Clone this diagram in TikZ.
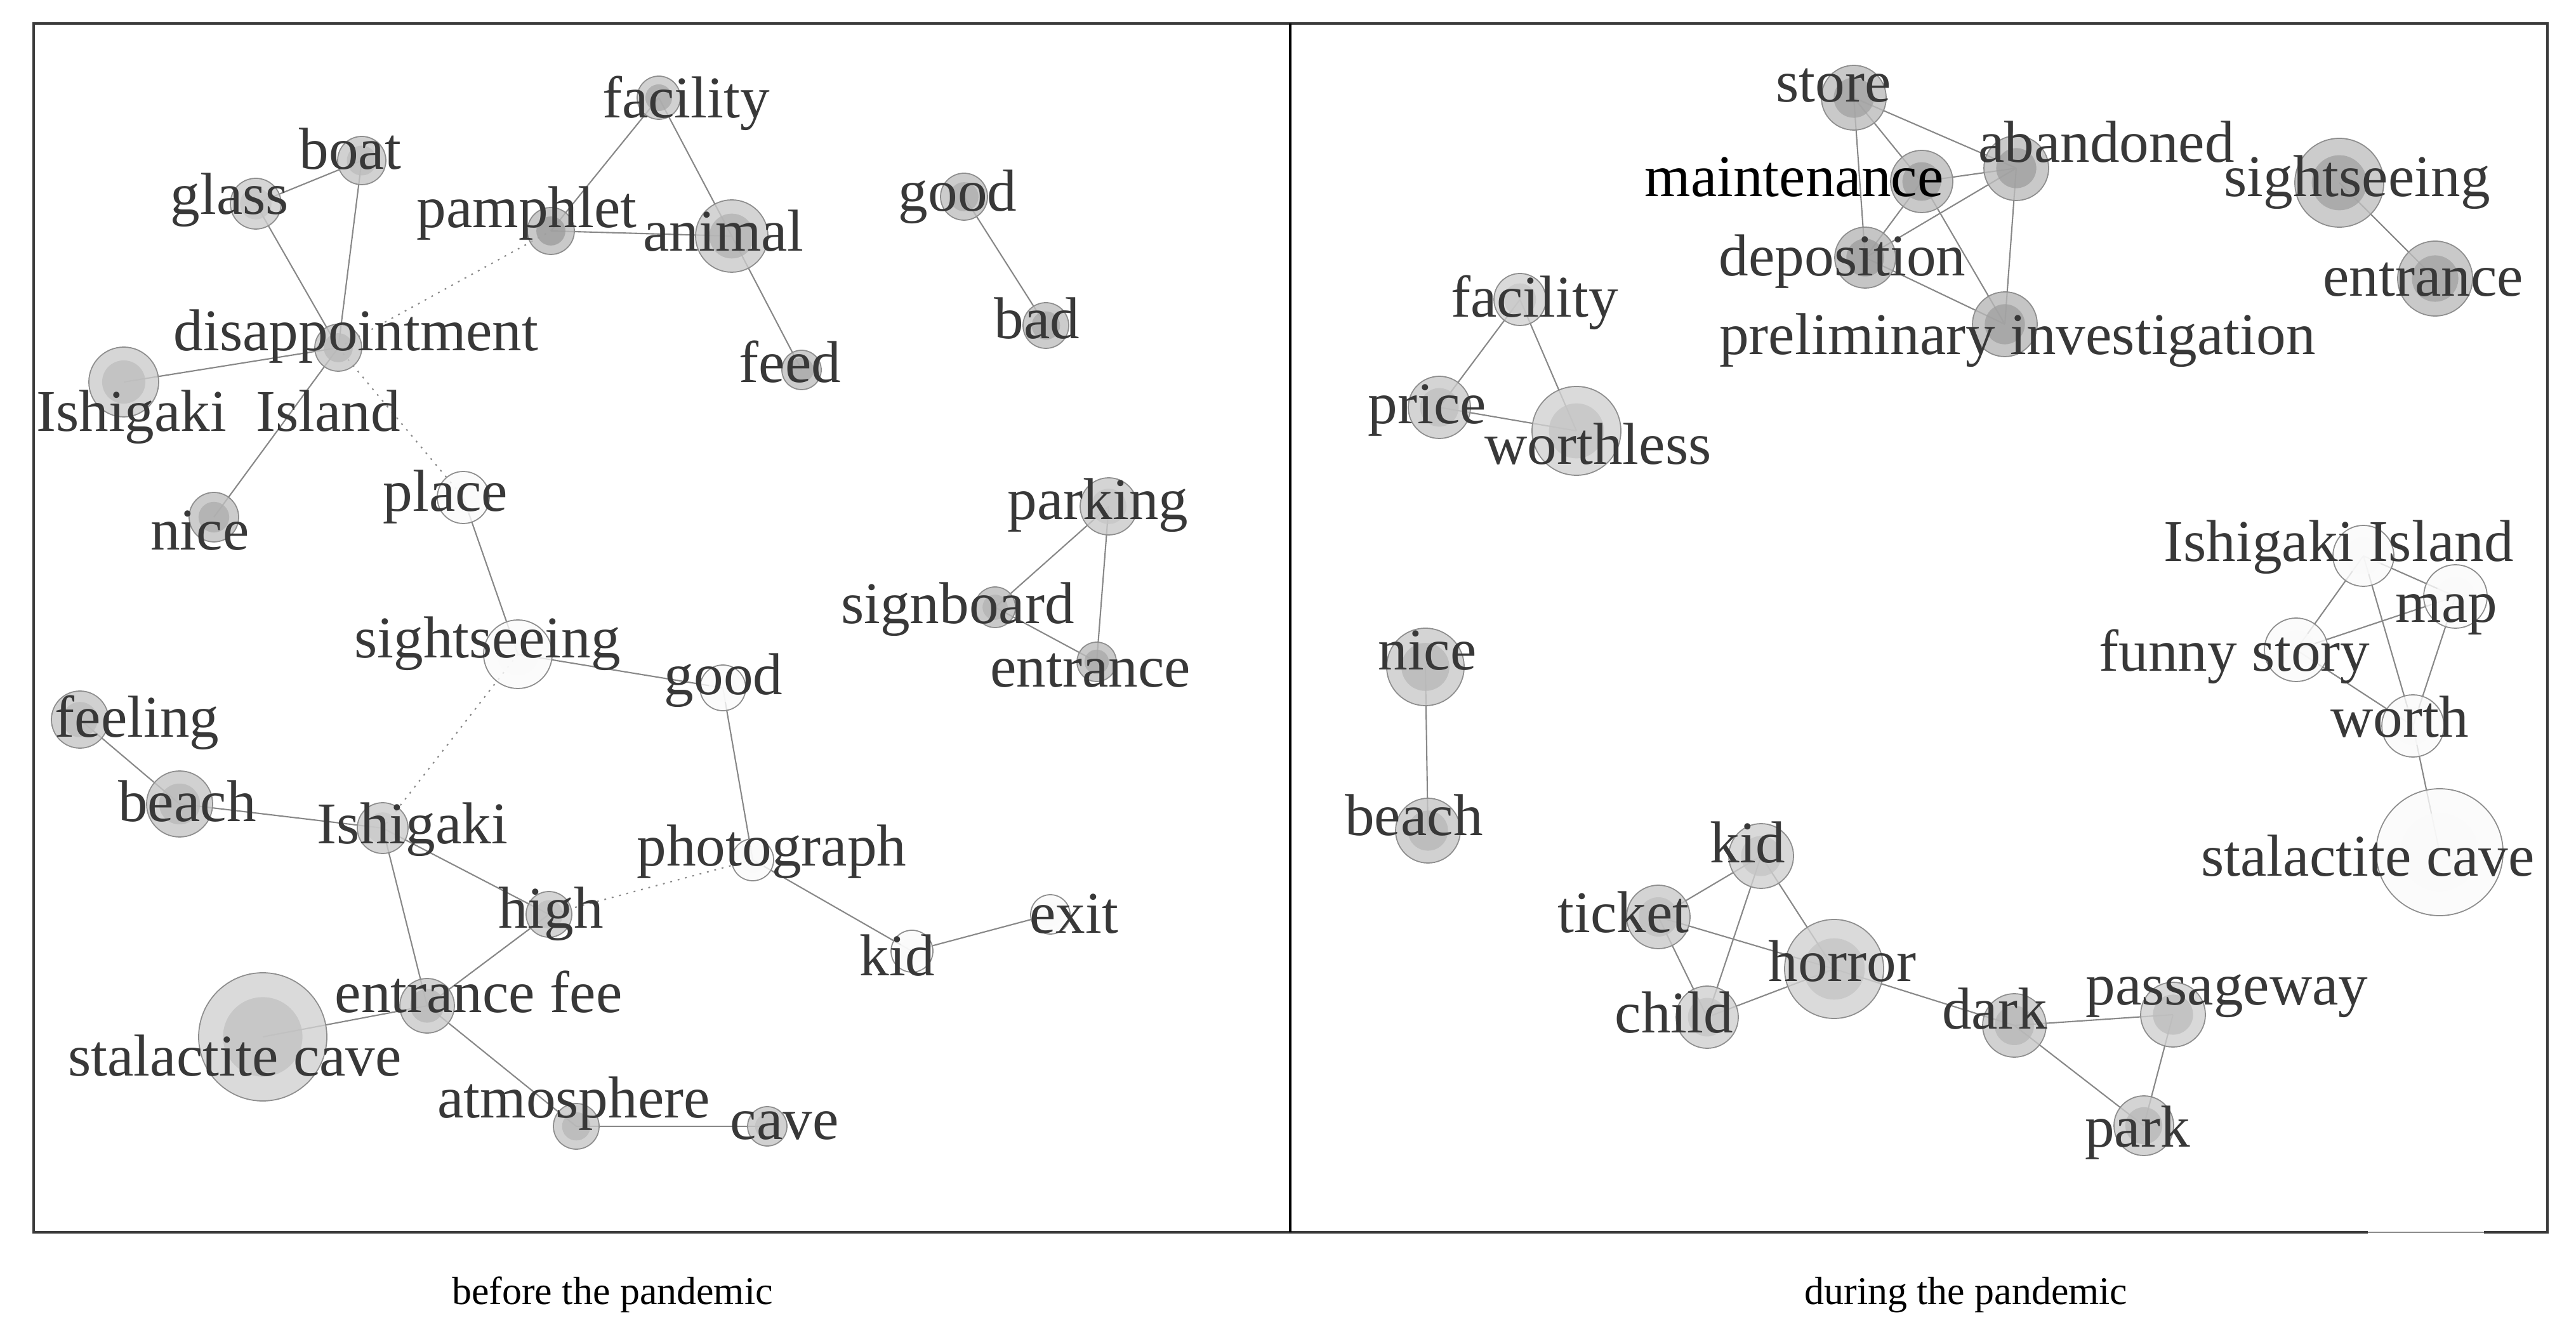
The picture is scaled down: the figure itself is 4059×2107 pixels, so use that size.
\documentclass[tikz,border=0pt]{standalone}
\usepackage{fontspec}
\setmainfont{Liberation Serif}
\usetikzlibrary{backgrounds}
\definecolor{lblgray}{HTML}{383838}
\definecolor{edgegray}{HTML}{888888}
\definecolor{ringgray}{HTML}{8E8E8E}
\definecolor{framegray}{HTML}{3A3A3A}
\tikzset{
  vtx/.style={circle, draw=ringgray, line width=0.5pt, inner sep=0pt, fill opacity=0.8},
  lbl/.style={anchor=base, inner sep=0pt, yshift=-0.03cm, text=lblgray, font=\fontsize{26.5}{30}\selectfont},
  captionstyle/.style={anchor=base, inner sep=0pt, text=black, font=\fontsize{17.6}{20}\selectfont},
  edgeline/.style={draw=edgegray, line width=0.6pt},
  dotline/.style={draw=edgegray, line width=0.6pt, dash pattern=on 0.8pt off 2.6pt},
  framestyle/.style={draw=framegray, line width=1.1pt},
}
\newcommand\kw[6]{%
  \pgfmathsetmacro\kwo{#5/0.8}%
  \pgfmathsetmacro\kwi{max(0,(#6-0.25*#5)/0.75)}%
  \node[vtx, minimum size={2*#4*0.01cm}, fill=black!\kwo] (#1) at (#2,#3) {};
  \fill[black!\kwi, fill opacity=0.75] (#1.center) circle[radius={#4*0.0062cm}];
}
\begin{document}
\begin{tikzpicture}[x=0.01cm, y=-0.01cm]
\useasboundingbox (0,0) rectangle (4059,2107);
% frame
\draw[framestyle] (53,37) rectangle (4014,1942);
\draw[white, line width=1.6pt] (3731,1942) -- (3914,1942);
\draw[black!45, line width=0.6pt] (3731,1942) -- (3914,1942);
\draw[black, line width=1.2pt] (2033,37) -- (2033,1942);

% ---------- left panel circles ----------
\kw{Lfac}{1038}{154}{34}{18}{30}
\kw{Lboat}{570}{253}{38}{18}{24}
\kw{Lglass}{403}{321}{40}{16}{21}
\kw{Lpam}{868}{364}{37}{21}{35}
\kw{Lani}{1153}{372}{57}{17}{27}
\kw{Lfeed}{1263}{583}{31}{20}{31}
\kw{LgoodA}{1519}{310}{37}{20}{29}
\kw{Lbad}{1648}{513}{36}{20}{30}
\kw{Ldis}{533}{548}{37}{18}{25}
\kw{LII}{195}{602}{55}{16}{23}
\kw{Lnice}{337}{815}{39}{20}{29}
\kw{Lplace}{730}{784}{41}{1.5}{1.5}
\kw{Lpark}{1747}{798}{45}{17}{21}
\kw{Lsign}{1568}{957}{32}{21}{28}
\kw{Lent}{1728}{1043}{31}{21}{31}
\kw{Lsight}{816}{1031}{54}{1.5}{1.5}
\kw{LgoodB}{1139}{1084}{36}{1.5}{1.5}
\kw{Lfeel}{126}{1134}{45}{18}{24}
\kw{Lbeach}{283}{1267}{52}{18}{25}
\kw{Lishi}{603}{1305}{40}{16}{20}
\kw{Lhigh}{865}{1441}{36}{17}{23}
\kw{Lphoto}{1186}{1355}{33}{1.5}{1.5}
\kw{Lkid}{1437}{1499}{33}{1.5}{1.5}
\kw{Lexit}{1655}{1441}{31}{1.5}{1.5}
\kw{Lfee}{673}{1585}{43}{17}{25}
\kw{Lstal}{414}{1634}{101}{14.5}{22}
\kw{Latm}{908}{1775}{36}{18}{26}
\kw{Lcave}{1209}{1775}{31}{18}{23}

% ---------- right panel circles ----------
\kw{Rstore}{2921}{154}{51}{21}{33}
\kw{Rmain}{3028}{286}{49}{21}{34}
\kw{Raban}{3177}{265}{51}{21}{34}
\kw{Rdep}{2939}{406}{48}{23}{35}
\kw{Rpre}{3159}{511}{51}{23}{34}
\kw{Rsight}{3686}{288}{70}{20}{33}
\kw{Rent}{3837}{439}{59}{21}{33}
\kw{Rfac}{2395}{472}{41}{14.5}{20}
\kw{Rprice}{2268}{642}{49}{17}{23}
\kw{Rwless}{2484}{679}{70}{14.5}{21}
\kw{Rnice}{2246}{1051}{61}{17}{25}
\kw{Rbeach}{2250}{1309}{51}{18}{26}
\kw{RII}{3724}{876}{48}{1.5}{1.5}
\kw{Rmap}{3869}{940}{50}{1.5}{1.5}
\kw{Rfun}{3618}{1024}{50}{1.5}{1.5}
\kw{Rworth}{3802}{1144}{49}{1.5}{1.5}
\kw{Rstal}{3844}{1343}{100}{1.5}{1.5}
\kw{Rkid}{2775}{1349}{51}{15}{21}
\kw{Rticket}{2613}{1445}{50}{17}{23}
\kw{Rhorror}{2890}{1527}{78}{14.5}{21}
\kw{Rchild}{2690}{1603}{49}{15}{21}
\kw{Rdark}{3174}{1616}{50}{18}{26}
\kw{Rpass}{3424}{1599}{51}{15}{23}
\kw{Rpark}{3378}{1774}{47}{17}{25}

% ---------- connectors ----------
\begin{scope}[on background layer]
\draw[edgeline] (Lfac.center) -- (Lpam.center);
\draw[edgeline] (Lfac.center) -- (Lani.center);
\draw[edgeline] (Lpam.center) -- (Lani.center);
\draw[edgeline] (Lani.center) -- (Lfeed.center);
\draw[edgeline] (LgoodA.center) -- (Lbad.center);
\draw[edgeline] (Lglass.center) -- (Lboat.center);
\draw[edgeline] (Lglass.center) -- (Ldis.center);
\draw[edgeline] (Lboat.center) -- (Ldis.center);
\draw[edgeline] (Ldis.center) -- (LII.center);
\draw[edgeline] (Ldis.center) -- (Lnice.center);
\draw[dotline] (Ldis.center) -- (Lpam.center);
\draw[dotline] (Ldis.center) -- (Lplace.center);
\draw[edgeline] (Lplace.center) -- (Lsight.center);
\draw[edgeline] (Lsight.center) -- (LgoodB.center);
\draw[dotline] (Lsight.center) -- (Lishi.center);
\draw[edgeline] (LgoodB.center) -- (Lphoto.center);
\draw[edgeline] (Lphoto.center) -- (Lkid.center);
\draw[edgeline] (Lkid.center) -- (Lexit.center);
\draw[dotline] (Lphoto.center) -- (Lhigh.center);
\draw[edgeline] (Lpark.center) -- (Lsign.center);
\draw[edgeline] (Lpark.center) -- (Lent.center);
\draw[edgeline] (Lsign.center) -- (Lent.center);
\draw[edgeline] (Lfeel.center) -- (Lbeach.center);
\draw[edgeline] (Lbeach.center) -- (Lishi.center);
\draw[edgeline] (Lishi.center) -- (Lhigh.center);
\draw[edgeline] (Lishi.center) -- (Lfee.center);
\draw[edgeline] (Lhigh.center) -- (Lfee.center);
\draw[edgeline] (Lfee.center) -- (Lstal.center);
\draw[edgeline] (Lfee.center) -- (Latm.center);
\draw[edgeline] (Latm.center) -- (Lcave.center);
% right
\draw[edgeline] (Rstore.center) -- (Rmain.center);
\draw[edgeline] (Rstore.center) -- (Raban.center);
\draw[edgeline] (Rstore.center) -- (Rdep.center);
\draw[edgeline] (Rmain.center) -- (Raban.center);
\draw[edgeline] (Rmain.center) -- (Rdep.center);
\draw[edgeline] (Rmain.center) -- (Rpre.center);
\draw[edgeline] (Raban.center) -- (Rdep.center);
\draw[edgeline] (Raban.center) -- (Rpre.center);
\draw[edgeline] (Rdep.center) -- (Rpre.center);
\draw[edgeline] (Rsight.center) -- (Rent.center);
\draw[edgeline] (Rfac.center) -- (Rprice.center);
\draw[edgeline] (Rfac.center) -- (Rwless.center);
\draw[edgeline] (Rprice.center) -- (Rwless.center);
\draw[edgeline] (Rnice.center) -- (Rbeach.center);
\draw[edgeline] (RII.center) -- (Rfun.center);
\draw[edgeline] (RII.center) -- (Rmap.center);
\draw[edgeline] (RII.center) -- (Rworth.center);
\draw[edgeline] (Rfun.center) -- (Rmap.center);
\draw[edgeline] (Rfun.center) -- (Rworth.center);
\draw[edgeline] (Rmap.center) -- (Rworth.center);
\draw[edgeline] (Rworth.center) -- (Rstal.center);
\draw[edgeline] (Rkid.center) -- (Rticket.center);
\draw[edgeline] (Rkid.center) -- (Rchild.center);
\draw[edgeline] (Rkid.center) -- (Rhorror.center);
\draw[edgeline] (Rticket.center) -- (Rhorror.center);
\draw[edgeline] (Rticket.center) -- (Rchild.center);
\draw[edgeline] (Rchild.center) -- (Rhorror.center);
\draw[edgeline] (Rhorror.center) -- (Rdark.center);
\draw[edgeline] (Rdark.center) -- (Rpass.center);
\draw[edgeline] (Rdark.center) -- (Rpark.center);
\draw[edgeline] (Rpass.center) -- (Rpark.center);
\end{scope}

% ---------- labels ----------
\node[lbl] (tLfac) at (1081,183) {facility};
\node[lbl] (tLboat) at (552,264) {boat};
\node[lbl] (tLglass) at (362,335) {glass};
\node[lbl] (tLpam) at (830,356) {pamphlet};
\node[lbl] (tLani) at (1140,393) {animal};
\node[lbl] (tLfeed) at (1245,600) {feed};
\node[lbl] (tLgoodA) at (1509,330) {good};
\node[lbl] (tLbad) at (1634,531) {bad};
\node[lbl] (tLdis) at (561,550) {disappointment};
\node[lbl] (tLII) at (344,677) {Ishigaki\hspace{0.49em}Island};
\node[lbl] (tLnice) at (315,864) {nice};
\node[lbl] (tLplace) at (702,803) {place};
\node[lbl] (tLpark) at (1730,816) {parking};
\node[lbl] (tLsign) at (1509,980) {signboard};
\node[lbl] (tLent) at (1718,1080) {entrance};
\node[lbl] (tLsight) at (768,1034) {sightseeing};
\node[lbl] (tLgoodB) at (1140,1092) {good};
\node[lbl] (tLfeel) at (216,1159) {feeling};
\node[lbl] (tLbeach) at (295,1291) {beach};
\node[lbl] (tLishi) at (650,1326) {Ishigaki};
\node[lbl] (tLhigh) at (868,1459) {high};
\node[lbl] (tLphoto) at (1216,1361) {photograph};
\node[lbl] (tLkid) at (1414,1534) {kid};
\node[lbl] (tLexit) at (1692,1467) {exit};
\node[lbl] (tLfee) at (754,1592) {entrance fee};
\node[lbl] (tLstal) at (370,1692) {stalactite cave};
\node[lbl] (tLatm) at (904,1758) {atmosphere};
\node[lbl] (tLcave) at (1236,1792) {cave};

\node[lbl] (tRstore) at (2889,158) {store};
\node[lbl, text=black] (tRmain) at (2827,307) {maintenance};
\node[lbl] (tRaban) at (3319,253) {abandoned};
\node[lbl] (tRdep) at (2903,432) {deposition};
\node[lbl] (tRpre) at (3179,556) {preliminary investigation};
\node[lbl] (tRsight) at (3714,307) {sightseeing};
\node[lbl] (tRent) at (3818,464) {entrance};
\node[lbl] (tRfac) at (2418,497) {facility};
\node[lbl] (tRprice) at (2249,665) {price};
\node[lbl] (tRwless) at (2518,729) {worthless};
\node[lbl] (tRnice) at (2249,1053) {nice};
\node[lbl] (tRbeach) at (2228,1313) {beach};
\node[lbl] (tRII) at (3685,882) {Ishigaki Island};
\node[lbl] (tRmap) at (3855,978) {map};
\node[lbl] (tRfun) at (3521,1055) {funny story};
\node[lbl] (tRworth) at (3781,1159) {worth};
\node[lbl] (tRstal) at (3731,1378) {stalactite cave};
\node[lbl] (tRkid) at (2754,1356) {kid};
\node[lbl] (tRticket) at (2558,1466) {ticket};
\node[lbl] (tRhorror) at (2903,1543) {horror};
\node[lbl] (tRchild) at (2638,1624) {child};
\node[lbl] (tRdark) at (3143,1618) {dark};
\node[lbl] (tRpass) at (3509,1580) {passageway};
\node[lbl] (tRpark) at (3368,1804) {park};

% captions
\node[captionstyle] (capL) at (965,2055) {before the pandemic};
\node[captionstyle] (capR) at (3098,2055) {during the pandemic};
\end{tikzpicture}
\end{document}
